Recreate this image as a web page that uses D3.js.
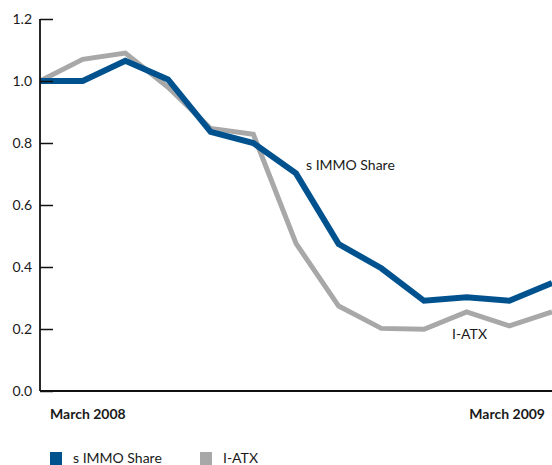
<!DOCTYPE html>
<html>
<head>
<meta charset="utf-8">
<script src="https://cdn.jsdelivr.net/npm/d3@7"></script>
<style>
  body { margin: 0; background: #fff; }
  text { font-family: "Lato", "Open Sans", sans-serif; fill: #1a1a1a; }
</style>
</head>
<body>
<div id="chart"></div>
<script>
const width = 552;
const height = 465;

// monthly points, March 2008 .. March 2009
const months = d3.range(13);
const immoShare = [1.0, 1.0, 1.065, 1.005, 0.836, 0.8, 0.702, 0.474, 0.396, 0.291, 0.302, 0.291, 0.348];
const iatx = [1.0, 1.07, 1.09, 0.98, 0.847, 0.828, 0.476, 0.274, 0.202, 0.199, 0.255, 0.21, 0.255];
const yTicks = [0.0, 0.2, 0.4, 0.6, 0.8, 1.0, 1.2];
const xLabels = ['March 2008', 'March 2009'];
const seriesNames = ['s IMMO Share', 'I-ATX'];

const blue = '#00528f';
const grey = '#a8a8a8';

const plotLeft = 40;
const plotRight = 552;
const plotTop = 19;
const plotBottom = 391;

const svg = d3.select('#chart')
  .append('svg')
  .attr('width', width)
  .attr('height', height);

const x = d3.scaleLinear().domain([0, 12]).range([plotLeft, plotRight]);
const y = d3.scaleLinear().domain([0, 1.2]).range([plotBottom, plotTop]);

const line = d3.line()
  .x((d, i) => x(months[i]))
  .y(d => y(d));

// I-ATX underneath
svg.append('path')
  .datum(iatx)
  .attr('fill', 'none')
  .attr('stroke', grey)
  .attr('stroke-width', 5)
  .attr('stroke-linejoin', 'miter')
  .attr('d', line);

svg.append('path')
  .datum(immoShare)
  .attr('fill', 'none')
  .attr('stroke', blue)
  .attr('stroke-width', 6)
  .attr('stroke-linejoin', 'miter')
  .attr('d', line);

// y axis, ticks pointing into the plot
const yAxis = d3.axisRight(y)
  .tickValues(yTicks)
  .tickSize(13)
  .tickFormat('');

const yg = svg.append('g')
  .attr('transform', `translate(${plotLeft}, 0)`)
  .call(yAxis);
yg.select('.domain').remove();
yg.selectAll('line').attr('stroke', '#111').attr('stroke-width', 1.5);

svg.append('line')
  .attr('x1', plotLeft).attr('x2', plotLeft)
  .attr('y1', plotTop).attr('y2', plotBottom)
  .attr('stroke', '#111')
  .attr('stroke-width', 1.8);

svg.selectAll('.ylabel')
  .data(yTicks)
  .enter()
  .append('text')
  .attr('class', 'ylabel')
  .attr('x', 32)
  .attr('y', d => y(d) + 5)
  .attr('text-anchor', 'end')
  .style('font-size', '14px')
  .text(d => d.toFixed(1));

// x axis
svg.append('line')
  .attr('x1', plotLeft).attr('x2', plotRight)
  .attr('y1', plotBottom).attr('y2', plotBottom)
  .attr('stroke', '#111')
  .attr('stroke-width', 1.8);

svg.append('text')
  .attr('x', 50)
  .attr('y', 419)
  .style('font-size', '14px')
  .style('font-weight', 'bold')
  .text(xLabels[0]);

svg.append('text')
  .attr('x', 545)
  .attr('y', 419)
  .attr('text-anchor', 'end')
  .style('font-size', '14px')
  .style('font-weight', 'bold')
  .text(xLabels[1]);

// inline series labels
svg.append('text')
  .attr('x', 306)
  .attr('y', 170)
  .style('font-size', '14px')
  .text(seriesNames[0]);

svg.append('text')
  .attr('x', 452)
  .attr('y', 339)
  .style('font-size', '14px')
  .text(seriesNames[1]);

// legend
const legend = svg.selectAll('.legend')
  .data([{ name: seriesNames[0], color: blue, x: 50 }, { name: seriesNames[1], color: grey, x: 200 }])
  .enter()
  .append('g')
  .attr('class', 'legend')
  .attr('transform', d => `translate(${d.x}, 452)`);

legend.append('rect')
  .attr('width', 12)
  .attr('height', 13)
  .attr('fill', d => d.color);

legend.append('text')
  .attr('x', 23)
  .attr('y', 11)
  .style('font-size', '14px')
  .text(d => d.name);
</script>
</body>
</html>
